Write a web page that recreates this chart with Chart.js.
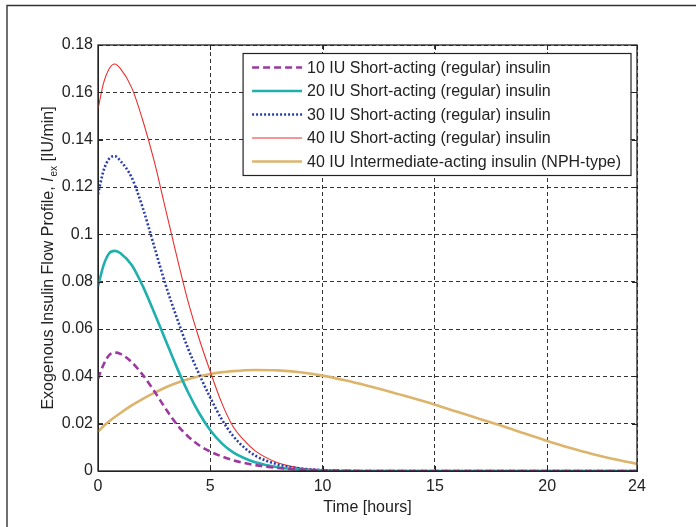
<!DOCTYPE html>
<html>
<head>
<meta charset="utf-8">
<script src="https://cdn.jsdelivr.net/npm/chart.js@4/dist/chart.umd.min.js"></script>
<style>
  html, body { margin: 0; padding: 0; background: #ffffff; }
  canvas { display: block; }
</style>
</head>
<body>
<canvas id="c" width="696" height="527"></canvas>
<script>
// ---- Data ----
const tShort = [0, 0.25, 0.5, 0.75, 1, 1.5, 2, 2.5, 3, 3.5, 4, 4.5, 5, 5.5, 6, 6.5, 7, 8, 9, 10, 11, 12, 16, 20, 24];
const short10 = [0.039, 0.045, 0.049, 0.050, 0.0495, 0.046, 0.0405, 0.0338, 0.0265, 0.0198, 0.0147, 0.0109, 0.0082, 0.0062, 0.0046, 0.0034, 0.0025, 0.0013, 0.0006, 0.0003, 0.0001, 0, 0, 0, 0];
const short20 = [0.078, 0.087, 0.092, 0.093, 0.092, 0.087, 0.078, 0.067, 0.0555, 0.044, 0.0335, 0.0245, 0.0172, 0.0118, 0.008, 0.0055, 0.0037, 0.0016, 0.0006, 0.0002, 0, 0, 0, 0, 0];
const short30 = [0.117, 0.127, 0.132, 0.133, 0.131, 0.124, 0.111, 0.095, 0.079, 0.065, 0.052, 0.041, 0.031, 0.022, 0.015, 0.010, 0.0065, 0.0028, 0.0011, 0.0004, 0.0001, 0, 0, 0, 0];
const short40 = [0.153, 0.164, 0.170, 0.172, 0.170, 0.162, 0.148, 0.131, 0.111, 0.091, 0.072, 0.056, 0.042, 0.029, 0.019, 0.013, 0.0085, 0.0035, 0.0013, 0.0004, 0.0001, 0, 0, 0, 0];
const tNPH = [0, 0.25, 0.5, 1, 1.5, 2, 2.5, 3, 3.5, 4, 5, 6, 7, 8, 9, 10, 11, 12, 13, 14, 15, 16, 17, 18, 19, 20, 21, 22, 23, 24];
const nph40 = [0.0166, 0.019, 0.021, 0.0245, 0.0277, 0.0305, 0.033, 0.0353, 0.0372, 0.0388, 0.041, 0.0422, 0.0427, 0.0425, 0.0417, 0.0403, 0.0383, 0.036, 0.0335, 0.0308, 0.028, 0.025, 0.022, 0.019, 0.0158, 0.0127, 0.0098, 0.0072, 0.005, 0.003];
const seriesLabels = [
  '10 IU Short-acting (regular) insulin',
  '20 IU Short-acting (regular) insulin',
  '30 IU Short-acting (regular) insulin',
  '40 IU Short-acting (regular) insulin',
  '40 IU Intermediate-acting insulin (NPH-type)'
];
const xTicks = [0, 5, 10, 15, 20, 24];
const yTicks = [0, 0.02, 0.04, 0.06, 0.08, 0.1, 0.12, 0.14, 0.16, 0.18];
const xTitle = 'Time [hours]';
const yTitleParts = ['Exogenous Insulin Flow Profile, ', 'I', 'ex', ' [IU/min]'];

const FONT = '"Liberation Sans", Arial, Helvetica, sans-serif';
const TXT = '#222222';

function pts(xs, ys) { return xs.map((x, i) => ({ x: x, y: ys[i] })); }

const datasets = [
  { label: seriesLabels[0], data: pts(tShort, short10), borderColor: '#9b3a9e', borderWidth: 2.6, borderDash: [7, 4] },
  { label: seriesLabels[1], data: pts(tShort, short20), borderColor: '#1fb0ad', borderWidth: 2.6, borderDash: [] },
  { label: seriesLabels[2], data: pts(tShort, short30), borderColor: '#2b3eaa', borderWidth: 2.6, borderDash: [2, 2] },
  { label: seriesLabels[3], data: pts(tShort, short40), borderColor: '#e8312f', borderWidth: 1.1, borderDash: [] },
  { label: seriesLabels[4], data: pts(tNPH, nph40), borderColor: '#dcb46c', borderWidth: 2.6, borderDash: [] }
].map(d => Object.assign(d, { pointRadius: 0, fill: false, cubicInterpolationMode: 'monotone', backgroundColor: d.borderColor }));

const decor = {
  id: 'decor',
  beforeDraw(chart) {
    const ctx = chart.ctx;
    ctx.save();
    ctx.fillStyle = '#ffffff';
    ctx.fillRect(0, 0, chart.width, chart.height);
    // outer frame (top and left edges)
    ctx.strokeStyle = '#333333';
    ctx.lineWidth = 1.4;
    ctx.beginPath();
    ctx.moveTo(7, chart.height);
    ctx.lineTo(7, 5.5);
    ctx.lineTo(chart.width, 5.5);
    ctx.stroke();
    ctx.restore();
  },
  afterDatasetsDraw(chart) {
    const ctx = chart.ctx;
    const ca = chart.chartArea;
    const xs = chart.scales.x, ys = chart.scales.y;
    ctx.save();
    // axes box
    ctx.strokeStyle = '#222222';
    ctx.lineWidth = 1.3;
    ctx.setLineDash([]);
    ctx.strokeRect(ca.left, ca.top, ca.right - ca.left, ca.bottom - ca.top);
    // inward ticks
    ctx.lineWidth = 1;
    ctx.beginPath();
    xTicks.forEach(v => {
      const px = Math.round(xs.getPixelForValue(v)) + 0.5;
      ctx.moveTo(px, ca.bottom); ctx.lineTo(px, ca.bottom - 5);
      ctx.moveTo(px, ca.top); ctx.lineTo(px, ca.top + 5);
    });
    yTicks.forEach(v => {
      const py = Math.round(ys.getPixelForValue(v)) + 0.5;
      ctx.moveTo(ca.left, py); ctx.lineTo(ca.left + 5, py);
      ctx.moveTo(ca.right, py); ctx.lineTo(ca.right - 5, py);
    });
    ctx.stroke();

    // legend box
    ctx.font = '16px ' + FONT;
    let maxW = 0;
    chart.data.datasets.forEach(d => { maxW = Math.max(maxW, ctx.measureText(d.label).width); });
    const bw = 64 + maxW + 10;
    const bx = ca.right - 6 - bw;
    const by = ca.top + 8.5;
    const rowH = 23.5;
    const bh = 14 + rowH * 4 + 14;
    ctx.fillStyle = '#ffffff';
    ctx.fillRect(bx, by, bw, bh);
    ctx.strokeStyle = '#222222';
    ctx.lineWidth = 1.2;
    ctx.strokeRect(bx, by, bw, bh);
    chart.data.datasets.forEach((d, i) => {
      const yy = by + 14 + i * rowH;
      ctx.save();
      ctx.strokeStyle = d.borderColor;
      ctx.lineWidth = d.borderWidth;
      ctx.setLineDash(d.borderDash || []);
      ctx.beginPath();
      ctx.moveTo(bx + 9, yy);
      ctx.lineTo(bx + 59, yy);
      ctx.stroke();
      ctx.restore();
      ctx.fillStyle = TXT;
      ctx.textBaseline = 'middle';
      ctx.textAlign = 'left';
      ctx.fillText(d.label, bx + 64, yy + 1);
    });

    // y axis title with italic I and subscript "ex"
    const cy = (ca.top + ca.bottom) / 2;
    const fN = '16px ' + FONT, fI = 'italic 16px ' + FONT, fS = '10px ' + FONT;
    ctx.font = fN; const w0 = ctx.measureText(yTitleParts[0]).width;
    ctx.font = fI; const w1 = ctx.measureText(yTitleParts[1]).width + 1;
    ctx.font = fS; const w2 = ctx.measureText(yTitleParts[2]).width;
    ctx.font = fN; const w3 = ctx.measureText(yTitleParts[3]).width;
    const total = w0 + w1 + w2 + w3;
    ctx.translate(53, cy);
    ctx.rotate(-Math.PI / 2);
    ctx.fillStyle = TXT;
    ctx.textBaseline = 'alphabetic';
    ctx.textAlign = 'left';
    let x = -total / 2;
    ctx.font = fN; ctx.fillText(yTitleParts[0], x, 0); x += w0;
    ctx.font = fI; ctx.fillText(yTitleParts[1], x, 0); x += w1;
    ctx.font = fS; ctx.fillText(yTitleParts[2], x, 4); x += w2;
    ctx.font = fN; ctx.fillText(yTitleParts[3], x, 0);
    ctx.restore();
  }
};

new Chart(document.getElementById('c'), {
  type: 'line',
  data: { datasets: datasets },
  plugins: [decor],
  options: {
    responsive: false,
    animation: false,
    devicePixelRatio: 1,
    layout: { padding: { left: 0, right: 59, top: 45, bottom: 0 } },
    plugins: { legend: { display: false }, tooltip: { enabled: false } },
    scales: {
      x: {
        type: 'linear', min: 0, max: 24,
        afterBuildTicks: s => { s.ticks = xTicks.map(v => ({ value: v })); },
        afterFit: s => { s.height = 56; },
        ticks: { padding: 6, color: TXT, font: { family: FONT, size: 16 }, maxRotation: 0, autoSkip: false, callback: v => String(v) },
        grid: { color: '#333333', lineWidth: 1, drawTicks: false },
        border: { display: true, color: '#222222', width: 1, dash: [4, 3] },
        title: { display: true, text: xTitle, color: TXT, font: { family: FONT, size: 16 }, padding: { top: 0, bottom: 10 } }
      },
      y: {
        type: 'linear', min: 0, max: 0.18,
        afterBuildTicks: s => { s.ticks = yTicks.map(v => ({ value: v })); },
        afterFit: s => { s.width = 98; },
        ticks: { padding: 5, color: TXT, font: { family: FONT, size: 16 }, autoSkip: false, callback: v => String(+(+v).toFixed(2)) },
        grid: { color: '#333333', lineWidth: 1, drawTicks: false },
        border: { display: true, color: '#222222', width: 1, dash: [4, 3] }
      }
    }
  }
});
</script>
</body>
</html>
